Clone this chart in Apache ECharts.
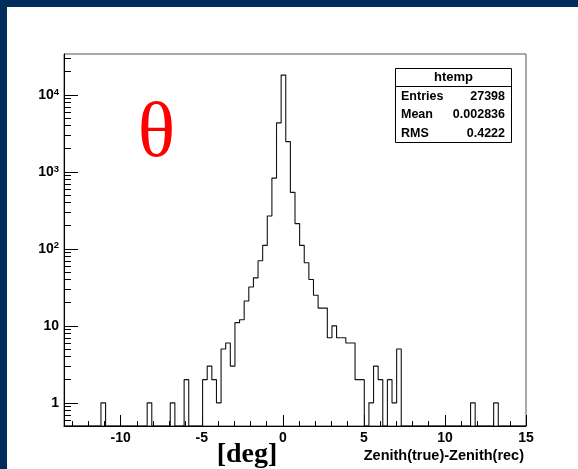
<!DOCTYPE html>
<html>
<head>
<meta charset="utf-8">
<script src="https://cdn.jsdelivr.net/npm/echarts@6/dist/echarts.min.js"></script>
<style>
  html, body { margin: 0; padding: 0; width: 578px; height: 469px; background: #022c5b; overflow: hidden; }
  #chart { position: absolute; left: 7px; top: 7px; width: 571px; height: 462px; background: #ffffff; }
</style>
</head>
<body>
<div id="chart"></div>
<script>
// Histogram definition: 100 equal bins between xRange[0] and xRange[1]
const xRange = [-13.5, 15];
const nBins = 100;

// Bin contents of Zenith(true)-Zenith(rec), left to right
const counts = [
  0, 0, 0, 0, 0, 0, 0, 0, 1, 0,
  0, 0, 0, 0, 0, 0, 0, 0, 1, 0,
  0, 0, 0, 1, 0, 0, 2, 0, 0, 0,
  2, 3, 2, 1, 5, 6, 3, 11, 12, 21,
  32, 42, 70, 111, 267, 830, 4330, 18080, 2470, 542,
  213, 111, 66, 40, 25, 17, 17, 7, 10, 7,
  7, 6, 6, 2, 2, 0, 1, 3, 2, 0,
  2, 1, 5, 0, 0, 0, 0, 0, 0, 0,
  0, 0, 0, 0, 0, 0, 0, 0, 1, 0,
  0, 0, 0, 1, 0, 0, 0, 0, 0, 0
];

// Axis ranges and tick positions
const yRange = [0.5, 34000];
const xMajorTicks = [-10, -5, 0, 5, 10, 15];
const xMinorTicks = [-13, -12, -11, -9, -8, -7, -6, -4, -3, -2, -1, 1, 2, 3, 4, 6, 7, 8, 9, 11, 12, 13, 14];
const yMajorTicks = [1, 10, 100, 1000, 10000];
const yMinorTicks = [
  0.6, 0.7, 0.8, 0.9,
  2, 3, 4, 5, 6, 7, 8, 9,
  20, 30, 40, 50, 60, 70, 80, 90,
  200, 300, 400, 500, 600, 700, 800, 900,
  2000, 3000, 4000, 5000, 6000, 7000, 8000, 9000,
  20000, 30000
];

// Statistics box
const statsTitle = 'htemp';
const statsNames = ['Entries', 'Mean', 'RMS'];
const statsValues = ['27398', '0.002836', '0.4222'];

// Texts
const xTitle = 'Zenith(true)-Zenith(rec)';
const unitText = '[deg]';
const symbolText = 'θ';

// Outline of the histogram as a step line through the bin edges;
// empty bins sit on the lower edge of the frame, as in a log-scale plot
const binWidth = (xRange[1] - xRange[0]) / nBins;
const outline = counts.map((c, k) => [xRange[0] + k * binWidth, Math.max(c, yRange[0])]);
outline.push([xRange[1], Math.max(counts[nBins - 1], yRange[0])]);

const sansBold = { fontFamily: 'Liberation Sans', fontWeight: 'bold', color: '#000' };

const chart = echarts.init(document.getElementById('chart'), null, { renderer: 'canvas' });

const statsGraphics = [
  { type: 'rect', shape: { x: 388.5, y: 61.5, width: 116, height: 74 },
    style: { fill: '#fff', stroke: '#000', lineWidth: 1 }, z: 10 },
  { type: 'line', shape: { x1: 388.5, y1: 79.5, x2: 504.5, y2: 79.5 },
    style: { stroke: '#000', lineWidth: 1 }, z: 11 },
  { type: 'text', x: 446.5, y: 70.5, z: 11,
    style: { text: statsTitle, fill: '#000', fontSize: 13, fontFamily: 'Liberation Sans', fontWeight: 'bold',
             align: 'center', textAlign: 'center', verticalAlign: 'middle', textVerticalAlign: 'middle' } }
];
const rowY = [89.7, 107.8, 126.2];
statsNames.forEach((name, i) => {
  statsGraphics.push({ type: 'text', x: 394, y: rowY[i], z: 11,
    style: { text: name, fill: '#000', fontSize: 12.5, fontFamily: 'Liberation Sans', fontWeight: 'bold',
             align: 'left', textAlign: 'left', verticalAlign: 'middle', textVerticalAlign: 'middle' } });
  statsGraphics.push({ type: 'text', x: 498, y: rowY[i], z: 11,
    style: { text: statsValues[i], fill: '#000', fontSize: 12.5, fontFamily: 'Liberation Sans', fontWeight: 'bold',
             align: 'right', textAlign: 'right', verticalAlign: 'middle', textVerticalAlign: 'middle' } });
});

const option = {
  animation: false,
  grid: { left: 57, top: 47, width: 462, height: 372, show: true, borderColor: '#555', borderWidth: 1,
          backgroundColor: 'transparent' },
  xAxis: [
    {
      type: 'value', min: xRange[0], max: xRange[1], position: 'bottom', offset: 0,
      axisLine: { show: true, onZero: false, lineStyle: { color: '#000', width: 1 } },
      axisTick: { show: true, inside: true, length: 5, customValues: xMinorTicks, lineStyle: { color: '#000' } },
      axisLabel: { show: true, customValues: xMajorTicks, fontSize: 14, margin: 5, ...sansBold },
      splitLine: { show: false }
    },
    {
      type: 'value', min: xRange[0], max: xRange[1], position: 'bottom', offset: 0,
      axisLine: { show: false, onZero: false },
      axisTick: { show: true, inside: true, length: 11, customValues: xMajorTicks, lineStyle: { color: '#000' } },
      axisLabel: { show: false },
      splitLine: { show: false }
    }
  ],
  yAxis: [
    {
      type: 'log', logBase: 10, min: yRange[0], max: yRange[1], position: 'left', offset: 0,
      axisLine: { show: true, onZero: false, lineStyle: { color: '#000', width: 1 } },
      axisTick: { show: true, inside: true, length: 14, customValues: yMajorTicks, lineStyle: { color: '#000' } },
      axisLabel: {
        show: true, customValues: yMajorTicks, margin: 5,
        formatter: v => {
          const p = Math.round(Math.log10(v));
          return p >= 2 ? '{b|10}{s|' + p + '}' : '{b|' + Math.round(v) + '}';
        },
        rich: {
          b: { fontSize: 14, lineHeight: 16, ...sansBold },
          s: { fontSize: 9.5, lineHeight: 16, verticalAlign: 'top', ...sansBold }
        }
      },
      splitLine: { show: false }
    },
    {
      type: 'log', logBase: 10, min: yRange[0], max: yRange[1], position: 'left', offset: 0,
      axisLine: { show: false, onZero: false },
      axisTick: { show: true, inside: true, length: 7, customValues: yMinorTicks, lineStyle: { color: '#000' } },
      axisLabel: { show: false },
      splitLine: { show: false }
    }
  ],
  series: [
    {
      type: 'line', xAxisIndex: 0, yAxisIndex: 0, step: 'end', data: outline,
      symbol: 'none', showSymbol: false, clip: true,
      lineStyle: { color: '#111', width: 1.1 }
    }
  ],
  graphic: { elements: [
    { type: 'text', x: 149.5, y: 129, z: 5,
      style: { text: symbolText, fill: '#ff0000', fontSize: 78, fontFamily: 'Liberation Serif',
               align: 'center', textAlign: 'center', verticalAlign: 'middle', textVerticalAlign: 'middle' } },
    { type: 'text', x: 209.7, y: 447.5, z: 5,
      style: { text: unitText, fill: '#000', fontSize: 28, fontFamily: 'Liberation Serif', fontWeight: 'bold',
               align: 'left', textAlign: 'left', verticalAlign: 'middle', textVerticalAlign: 'middle' } },
    { type: 'text', x: 517, y: 449, z: 5,
      style: { text: xTitle, fill: '#000', fontSize: 14.5, fontFamily: 'Liberation Sans', fontWeight: 'bold',
               align: 'right', textAlign: 'right', verticalAlign: 'middle', textVerticalAlign: 'middle' } },
    ...statsGraphics
  ] }
};

chart.setOption(option);
</script>
</body>
</html>
